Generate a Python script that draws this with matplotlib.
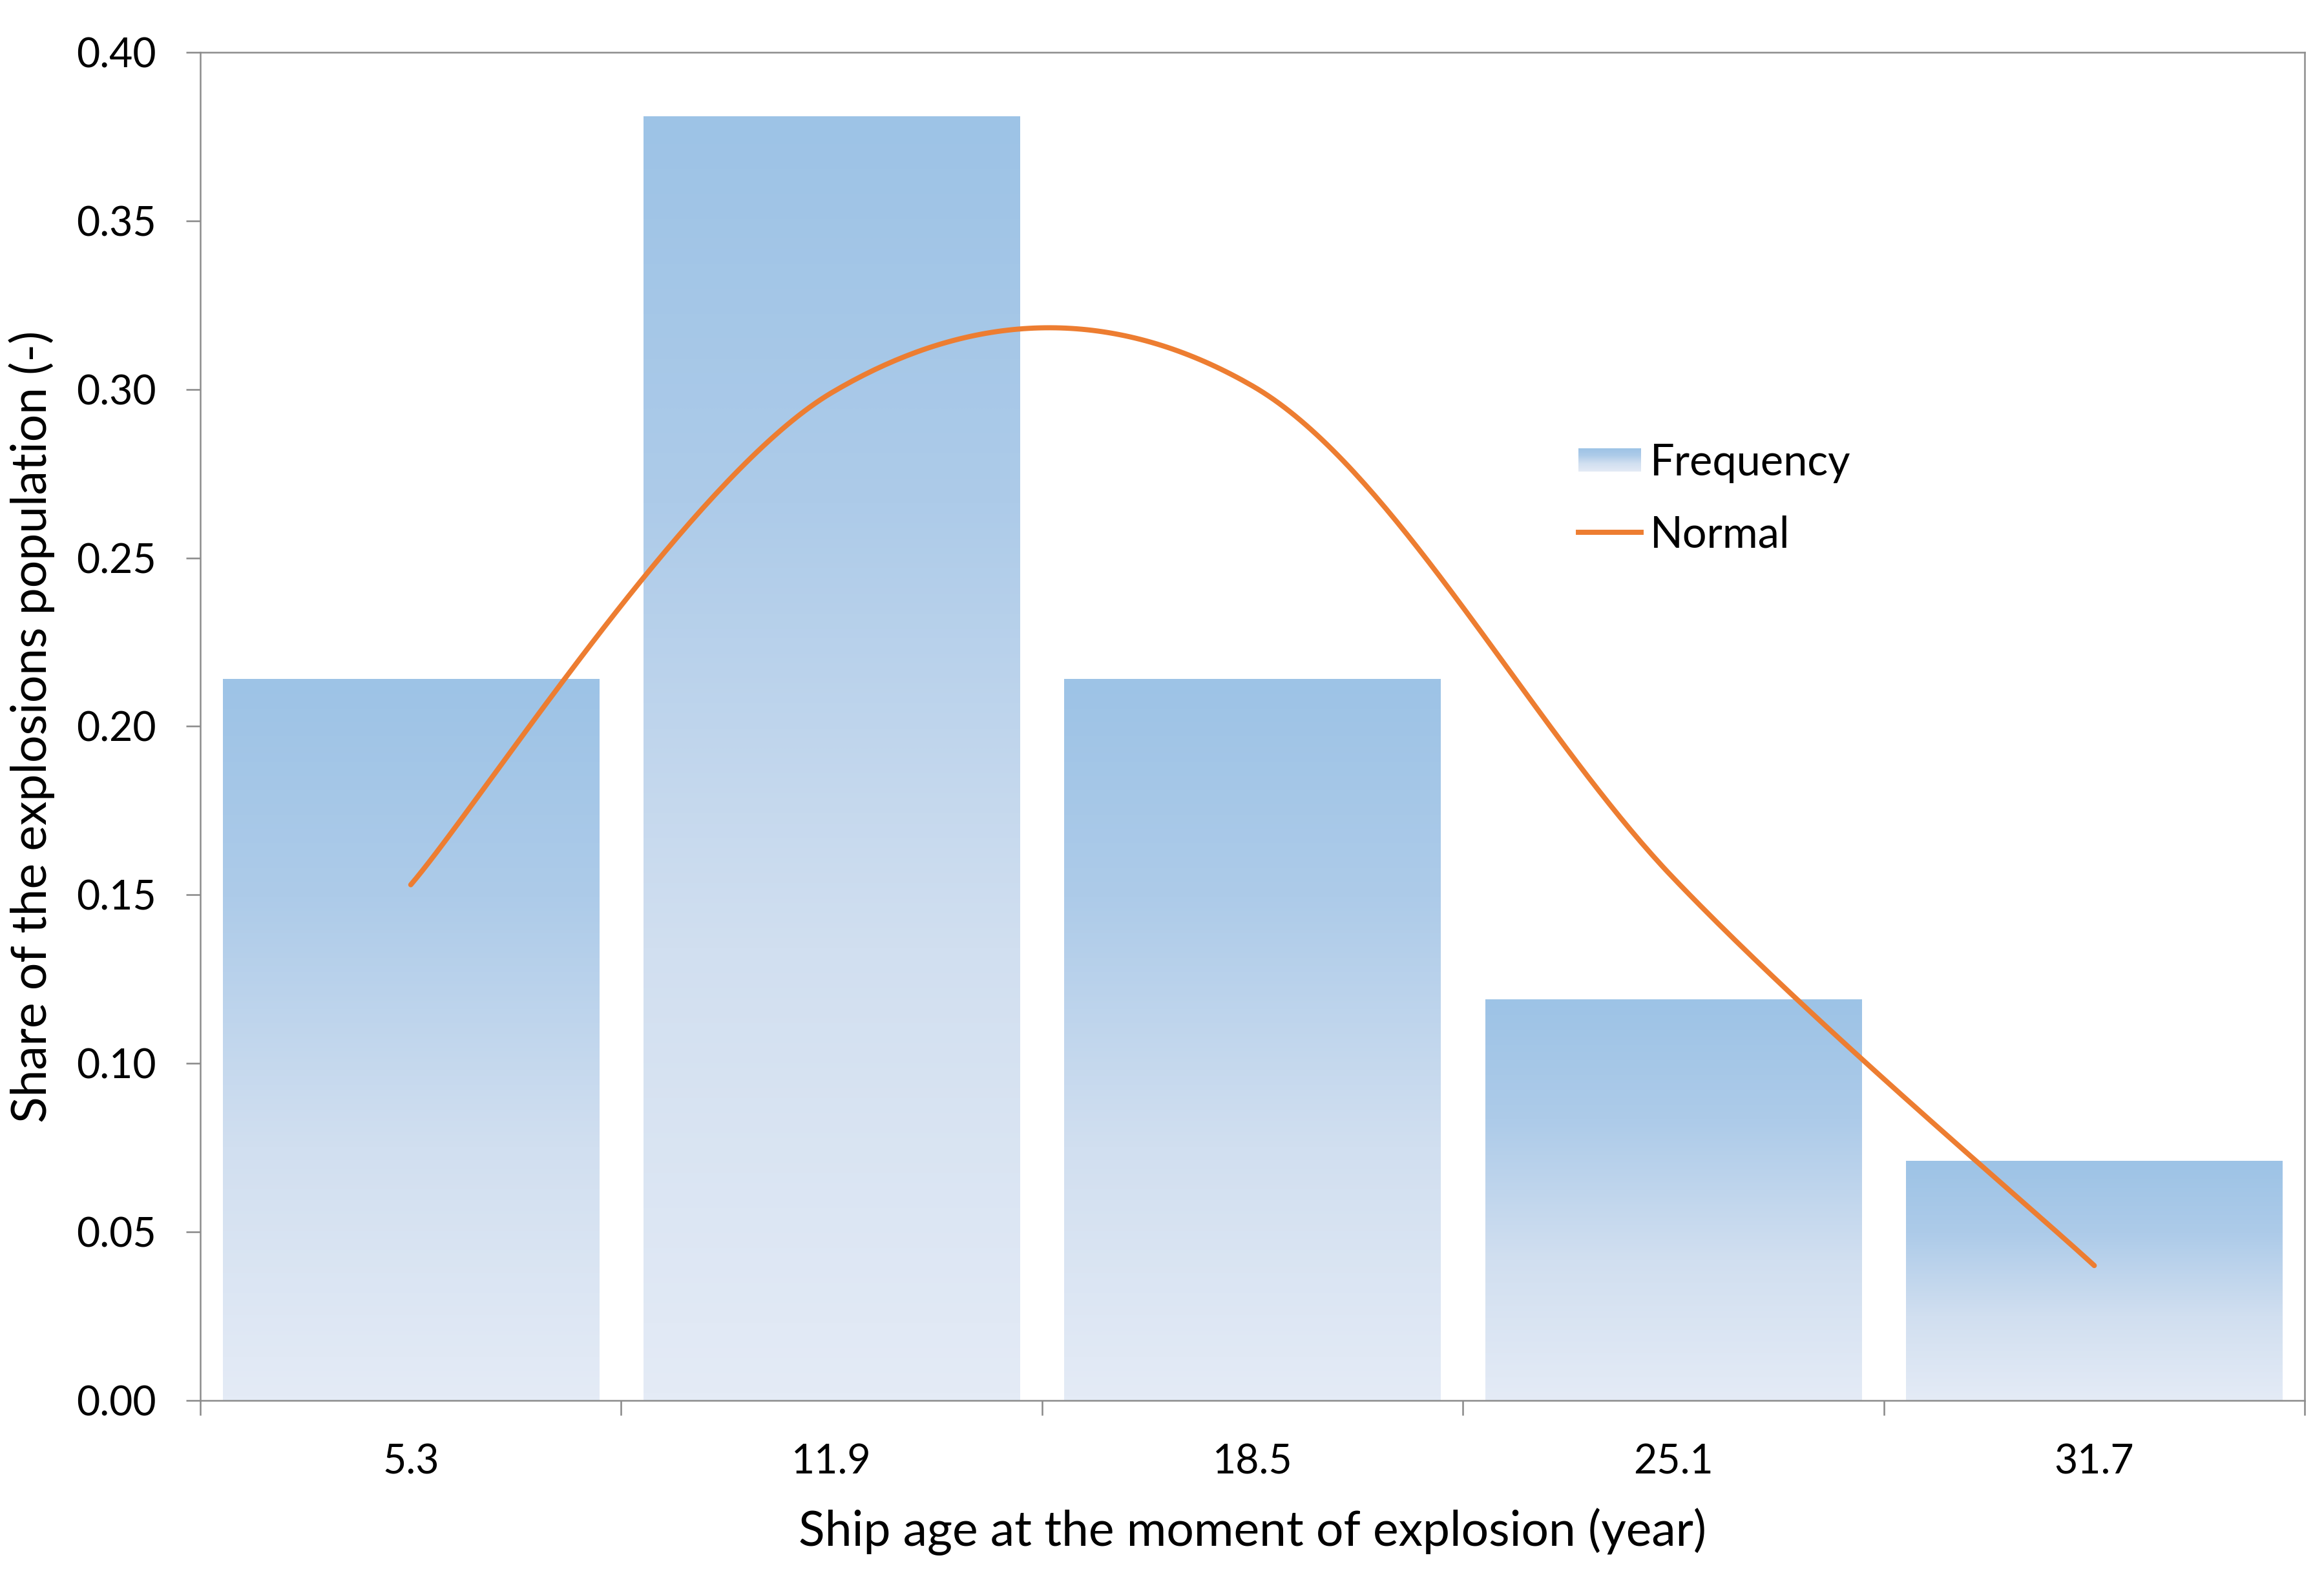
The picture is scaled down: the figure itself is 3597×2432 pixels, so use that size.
import numpy as np
import matplotlib.pyplot as plt
from matplotlib.colors import LinearSegmentedColormap, Normalize
from matplotlib.legend_handler import HandlerBase
from matplotlib.image import BboxImage
from matplotlib.transforms import Bbox, TransformedBbox
from matplotlib.lines import Line2D
from matplotlib.patches import Patch

plt.rcParams['font.family'] = ['Lato', 'DejaVu Sans']

ages = ['5.3', '11.9', '18.5', '25.1', '31.7']
frequency = [0.214, 0.381, 0.214, 0.119, 0.071]
normal = [0.153, 0.299, 0.301, 0.155, 0.040]

# bar fill: dark blue at the top fading to pale at the bottom
bar_cmap = LinearSegmentedColormap.from_list(
    'bars', [(0.0, '#9dc3e6'), (0.3, '#adcbe9'), (0.65, '#d1dff0'), (1.0, '#e4ebf6')])
grad = np.linspace(0, 1, 256).reshape(-1, 1)


def smooth(xs, ys, n=80):
    # Catmull-Rom through the points, like a smoothed line in a spreadsheet
    pts = np.column_stack([xs, ys]).astype(float)
    pts = np.vstack([pts[0], pts, pts[-1]])
    t = np.linspace(0, 1, n)[:, None]
    h00 = 2 * t**3 - 3 * t**2 + 1
    h10 = t**3 - 2 * t**2 + t
    h01 = -2 * t**3 + 3 * t**2
    h11 = t**3 - t**2
    out = []
    for i in range(1, len(pts) - 2):
        p0, p1, p2, p3 = pts[i - 1], pts[i], pts[i + 1], pts[i + 2]
        m1 = (p2 - p0) / 2
        m2 = (p3 - p1) / 2
        seg = h00 * p1 + h10 * m1 + h01 * p2 + h11 * m2
        out.append(seg if i == 1 else seg[1:])
    return np.vstack(out)


class GradientHandler(HandlerBase):
    def create_artists(self, legend, orig_handle, xdescent, ydescent,
                       width, height, fontsize, trans):
        bb = Bbox.from_bounds(-xdescent, -ydescent + height * 0.12, width, height * 0.76)
        img = BboxImage(TransformedBbox(bb, trans), cmap=bar_cmap,
                        norm=Normalize(0, 1), interpolation='bilinear', origin='upper')
        img.set_data(grad)
        return [img]


fig = plt.figure(figsize=(3597 / 300, 2432 / 300), dpi=300)
ax = fig.add_axes([0.0862, 0.1086, 0.9055, 0.8581])

x = np.arange(len(ages))
bars = ax.bar(x, frequency, width=0.894, color='none', edgecolor='none')
for b in bars:
    x0, w, h = b.get_x(), b.get_width(), b.get_height()
    ax.imshow(grad, cmap=bar_cmap, norm=Normalize(0, 1), aspect='auto',
              extent=[x0, x0 + w, 0, h], origin='upper', interpolation='bilinear', zorder=1)

curve = smooth(x, normal)
ax.plot(curve[:, 0], curve[:, 1], color='#ed7d31', lw=1.9, zorder=3,
        solid_capstyle='round')

ax.set_xlim(-0.5, len(ages) - 0.5)
ax.set_ylim(0, 0.40)
ax.set_yticks(np.arange(0, 0.401, 0.05))
ax.set_yticklabels([f'{v:.2f}' for v in np.arange(0, 0.401, 0.05)])

ax.set_xticks(np.arange(-0.5, len(ages), 1.0))
ax.set_xticklabels([])
ax.set_xticks(x, minor=True)
ax.set_xticklabels(ages, minor=True)
ax.tick_params(axis='x', which='minor', length=0, pad=16, labelsize=15)
ax.tick_params(axis='x', which='major', length=5.5, width=0.6, color='#888888')
ax.tick_params(axis='y', length=5.3, width=0.6, color='#888888', pad=11, labelsize=15)

for s in ax.spines.values():
    s.set_color('#8c8c8c')
    s.set_linewidth(0.6)

ax.set_xlabel('Ship age at the moment of explosion (year)', fontsize=18, labelpad=10)
ax.set_ylabel('Share of the explosions population (-)', fontsize=18, labelpad=8)

handles = [Patch(label='Frequency'),
           Line2D([], [], color='#ed7d31', lw=1.9, label='Normal')]
ax.legend(handles=handles, loc='center left', bbox_to_anchor=(0.655, 0.6685),
          frameon=False, fontsize=16, handlelength=1.45, handletextpad=0.2,
          labelspacing=0.75, borderpad=0, borderaxespad=0,
          handler_map={Patch: GradientHandler()})

fig.savefig('out.png', dpi=300)
